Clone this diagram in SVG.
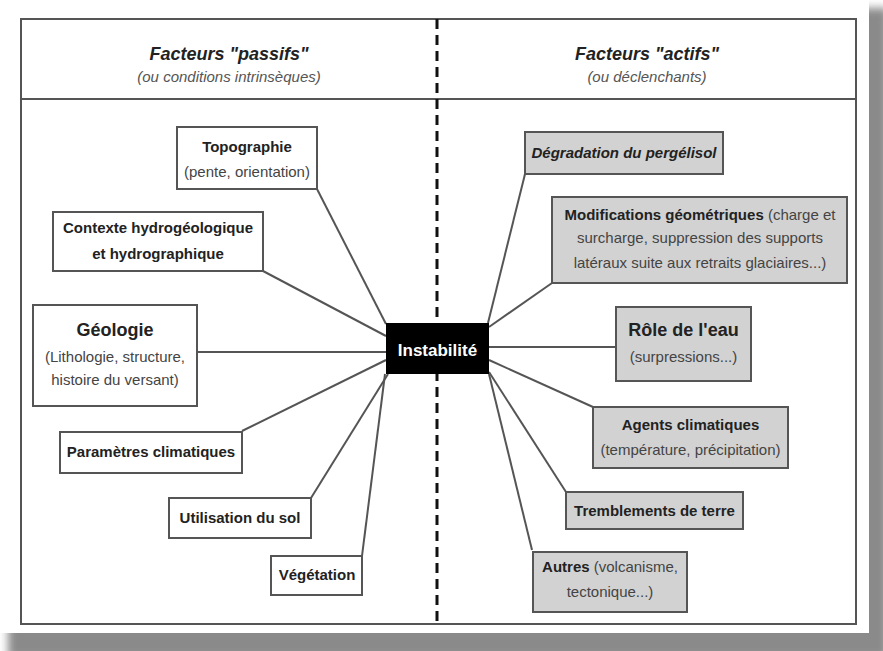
<svg xmlns="http://www.w3.org/2000/svg" width="883" height="651" viewBox="0 0 883 651">
<style>
text{font-family:"Liberation Sans",Arial,sans-serif;text-anchor:middle}
.b{font-weight:bold;font-size:15px;fill:#222}
.r{font-size:15px;fill:#444}
.big{font-weight:bold;font-size:18px;fill:#222}
.h{font-weight:bold;font-style:italic;font-size:18px;fill:#222}
.hs{font-style:italic;font-size:15px;fill:#555}
.box{fill:#fff;stroke:#555;stroke-width:2}
.gbox{fill:#d2d2d2;stroke:#555;stroke-width:2}
.frame{fill:none;stroke:#555;stroke-width:2}
#connectors line{stroke:#555;stroke-width:2}
</style>
<defs>
<filter id="sh" x="-5%" y="-5%" width="110%" height="110%"><feGaussianBlur stdDeviation="4"/></filter>
</defs>
<rect x="0" y="0" width="883" height="651" fill="#fff"/>
<rect x="8" y="8" width="880" height="650" fill="#8a8a8a" filter="url(#sh)"/>
<rect x="0" y="0" width="869" height="633" fill="#fff"/>
<rect class="frame" x="21" y="19" width="835" height="605"/>
<line x1="21" y1="99" x2="856" y2="99" stroke="#555" stroke-width="2"/>
<line x1="437" y1="19" x2="437" y2="624" stroke="#111" stroke-width="3" stroke-dasharray="10,6"/>
<g id="header-left">
<text class="h" x="229" y="60">Facteurs "passifs"</text>
<text class="hs" x="229" y="82">(ou conditions intrinsèques)</text>
</g>
<g id="header-right">
<text class="h" x="647" y="60">Facteurs "actifs"</text>
<text class="hs" x="647" y="82">(ou déclenchants)</text>
</g>
<g id="connectors">
<line x1="317" y1="189" x2="386" y2="324"/>
<line x1="263" y1="271" x2="386" y2="336"/>
<line x1="197" y1="352" x2="386" y2="352"/>
<line x1="242" y1="431" x2="386" y2="360"/>
<line x1="311" y1="498" x2="388" y2="374"/>
<line x1="362" y1="556" x2="385" y2="374"/>
<line x1="525" y1="174" x2="488" y2="323"/>
<line x1="552" y1="283" x2="489" y2="327"/>
<line x1="489" y1="347" x2="616" y2="347"/>
<line x1="593" y1="407" x2="489" y2="360"/>
<line x1="566" y1="492" x2="489" y2="372"/>
<line x1="532" y1="550" x2="489" y2="374"/>
</g>
<g id="instabilite">
<rect x="386" y="323" width="103" height="51" fill="#000"/>
<text x="437.5" y="356" style="font-weight:bold;font-size:17px;fill:#fff">Instabilité</text>
</g>
<g id="topographie">
<rect class="box" x="177" y="127" width="140" height="62"/>
<text class="b" x="247" y="152">Topographie</text>
<text class="r" x="247" y="177">(pente, orientation)</text>
</g>
<g id="contexte">
<rect class="box" x="53" y="212" width="210" height="59"/>
<text class="b" x="158" y="233">Contexte hydrogéologique</text>
<text class="b" x="158" y="259">et hydrographique</text>
</g>
<g id="geologie">
<rect class="box" x="33" y="305" width="164" height="101"/>
<text class="big" x="115" y="336">Géologie</text>
<text class="r" x="115" y="362">(Lithologie, structure,</text>
<text class="r" x="115" y="385">histoire du versant)</text>
</g>
<g id="parametres">
<rect class="box" x="60" y="432" width="182" height="41"/>
<text class="b" x="151" y="457">Paramètres climatiques</text>
</g>
<g id="utilisation">
<rect class="box" x="169" y="498" width="142" height="40"/>
<text class="b" x="240" y="523">Utilisation du sol</text>
</g>
<g id="vegetation">
<rect class="box" x="271" y="556" width="91" height="39"/>
<text class="b" x="317" y="580">Végétation</text>
</g>
<g id="degradation">
<rect class="gbox" x="525" y="132" width="198" height="42"/>
<text class="b" x="624" y="158" font-style="italic">Dégradation du pergélisol</text>
</g>
<g id="modifications">
<rect class="gbox" x="552" y="197" width="295" height="86"/>
<text class="r" x="700" y="220"><tspan class="b">Modifications géométriques</tspan> (charge et</text>
<text class="r" x="700" y="243">surcharge, suppression des supports</text>
<text class="r" x="700" y="268">latéraux suite aux retraits glaciaires...)</text>
</g>
<g id="role-eau">
<rect class="gbox" x="616" y="307" width="135" height="74"/>
<text class="big" x="683.5" y="336">Rôle de l'eau</text>
<text class="r" x="683.5" y="362">(surpressions...)</text>
</g>
<g id="agents">
<rect class="gbox" x="593" y="407" width="195" height="61"/>
<text class="b" x="690.5" y="430">Agents climatiques</text>
<text class="r" x="690.5" y="455">(température, précipitation)</text>
</g>
<g id="tremblements">
<rect class="gbox" x="566" y="492" width="177" height="37"/>
<text class="b" x="654.5" y="516">Tremblements de terre</text>
</g>
<g id="autres">
<rect class="gbox" x="533" y="552" width="154" height="60"/>
<text class="r" x="610" y="572"><tspan class="b">Autres</tspan> (volcanisme,</text>
<text class="r" x="610" y="597">tectonique...)</text>
</g>
</svg>
